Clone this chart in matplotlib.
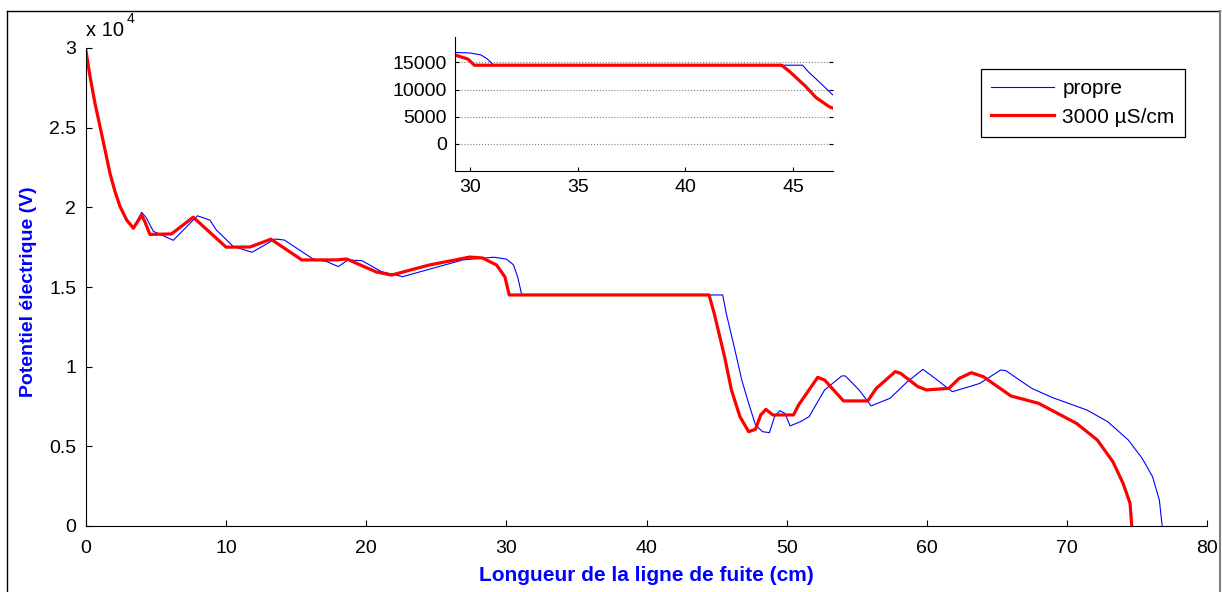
import numpy as np
import matplotlib
matplotlib.use("Agg")
import matplotlib.pyplot as plt
from matplotlib.lines import Line2D

plt.rcParams['font.family'] = ['Liberation Sans', 'DejaVu Sans']

# propre (blue)
x_propre = [0, 0.29, 0.64, 1.0, 1.36, 1.71, 2.07, 2.43, 2.9, 3.38, 3.97, 4.32, 4.8,
            6.23, 7.95, 8.84, 9.3, 10.5, 11.85, 13.5, 14.15, 16.2, 17.2, 18.0, 18.7,
            19.7, 21.1, 22.6, 26.9, 29.1, 30.0, 30.5, 30.8, 31.1, 45.44, 45.69,
            46.31, 46.8, 47.29, 47.78, 48.28, 48.77, 49.14, 49.51, 49.88, 50.25,
            50.99, 51.6, 52.71, 53.94, 54.19, 55.17, 56.03, 57.39, 58.62, 59.73,
            60.59, 61.82, 63.05, 63.79, 65.27, 65.64, 67.49, 68.97, 71.43, 72.91,
            74.38, 75.37, 76.11, 76.6, 76.8]
y_propre = [29800, 28200, 26530, 25070, 23600, 22140, 20990, 20050, 19210, 18690,
            19690, 19320, 18500, 17930, 19470, 19200, 18580, 17550, 17180, 18010,
            17950, 16760, 16590, 16280, 16700, 16650, 15960, 15650, 16700, 16870,
            16750, 16400, 15650, 14500, 14500, 13350, 11050, 9160, 7700, 6340,
            5920, 5860, 6860, 7240, 7070, 6280, 6550, 6860, 8540, 9420, 9420, 8540,
            7540, 8020, 9060, 9830, 9270, 8430, 8750, 8950, 9790, 9750, 8640, 8060,
            7280, 6550, 5400, 4250, 3100, 1630, 0]

# 3000 uS/cm (red)
x_3000 = [0, 0.29, 0.64, 1.0, 1.36, 1.71, 2.07, 2.43, 2.9, 3.38, 3.97, 4.2, 4.56,
          6.1, 7.65, 10.0, 11.7, 13.2, 15.4, 17.9, 18.6, 20.7, 21.8, 24.5, 27.4,
          28.3, 29.3, 29.9, 30.2, 44.46, 44.83, 45.57, 46.06, 46.67, 47.29, 47.78,
          48.15, 48.52, 49.01, 50.49, 50.86, 52.22, 52.71, 54.06, 55.79, 56.4,
          57.76, 58.13, 59.36, 59.98, 61.58, 62.32, 63.18, 64.04, 66.01, 67.98,
          70.69, 72.17, 73.28, 74.01, 74.51, 74.63]
y_3000 = [29800, 28200, 26530, 25070, 23600, 22140, 20990, 20050, 19210, 18690,
          19500, 19100, 18300, 18330, 19380, 17500, 17510, 18000, 16700, 16700,
          16760, 15950, 15750, 16380, 16880, 16820, 16380, 15630, 14500, 14500,
          13350, 10630, 8540, 6860, 5920, 6070, 6970, 7320, 6970, 6970, 7600, 9330,
          9160, 7850, 7850, 8640, 9690, 9580, 8750, 8540, 8640, 9270, 9620, 9370,
          8160, 7700, 6440, 5400, 4040, 2680, 1420, 0]

main_yticks = [0, 5000, 10000, 15000, 20000, 25000, 30000]
main_ylabels = ['0', '0.5', '1', '1.5', '2', '2.5', '3']
inset_yticks = [0, 5000, 10000, 15000]
inset_xticks = [30, 35, 40, 45]

W, H = 1222, 592
fig = plt.figure(figsize=(W / 100, H / 100), dpi=100)

ax = fig.add_axes([86 / W, 1 - 526 / H, (1207 - 86) / W, (526 - 48) / H])
ax.plot(x_propre, y_propre, color='blue', lw=0.8, label='propre')
ax.plot(x_3000, y_3000, color='red', lw=2.3, label='3000 µS/cm')
ax.set_xlim(0, 80)
ax.set_ylim(0, 30000)
ax.set_yticks(main_yticks)
ax.set_yticklabels(main_ylabels)
ax.set_xticks(range(0, 81, 10))
for s in ['top', 'right']:
    ax.spines[s].set_visible(False)
ax.tick_params(direction='in', length=4, labelsize=14, pad=7)
ax.tick_params(axis='x', pad=10)
ax.annotate('x 10', xy=(0, 1), xycoords='axes fraction', xytext=(0, 6),
            textcoords='offset points', fontsize=14.5, va='bottom', ha='left')
ax.annotate('4', xy=(0, 1), xycoords='axes fraction', xytext=(29, 16),
            textcoords='offset points', fontsize=10, va='bottom', ha='left')
ax.set_xlabel('Longueur de la ligne de fuite (cm)', color='blue',
              fontweight='bold', fontsize=15)
ax.xaxis.set_label_coords(0.5, -0.083)
ax.set_ylabel('Potentiel électrique (V)', color='blue',
              fontweight='bold', fontsize=14)
ax.yaxis.set_label_coords(-0.0435, 0.49)

leg = ax.legend(loc='upper left', bbox_to_anchor=(981 / W, 1 - 69 / H),
                bbox_transform=fig.transFigure, fontsize=15, fancybox=False,
                edgecolor='black', framealpha=1, borderaxespad=0,
                handlelength=3.0, handletextpad=0.4, labelspacing=0.45,
                borderpad=0.5)
leg.get_frame().set_linewidth(0.9)

# inset
ax2 = fig.add_axes([455 / W, 1 - 171 / H, (833 - 455) / W, (171 - 37) / H])
ax2.plot(x_propre, y_propre, color='blue', lw=0.8)
ax2.plot(x_3000, y_3000, color='red', lw=2.3)
ax2.set_xlim(29.3, 46.85)
ax2.set_ylim(-5000, 19700)
ax2.set_yticks(inset_yticks)
ax2.set_xticks(inset_xticks)
ax2.grid(axis='y', linestyle=':', color='gray', lw=0.8)
for s in ['top', 'right']:
    ax2.spines[s].set_visible(False)
ax2.tick_params(direction='in', length=3, labelsize=14, pad=6)
ax2.tick_params(axis='y', right=True)

# figure frame
fig.add_artist(Line2D([7 / W, 1220 / W], [1 - 11 / H, 1 - 11 / H],
                      transform=fig.transFigure, color='black', lw=1))
fig.add_artist(Line2D([7 / W, 7 / W], [0, 1 - 11 / H],
                      transform=fig.transFigure, color='black', lw=1))
fig.add_artist(Line2D([1220 / W, 1220 / W], [0, 1 - 11 / H],
                      transform=fig.transFigure, color='gray', lw=1.5))

fig.savefig('out.png', dpi=100)
